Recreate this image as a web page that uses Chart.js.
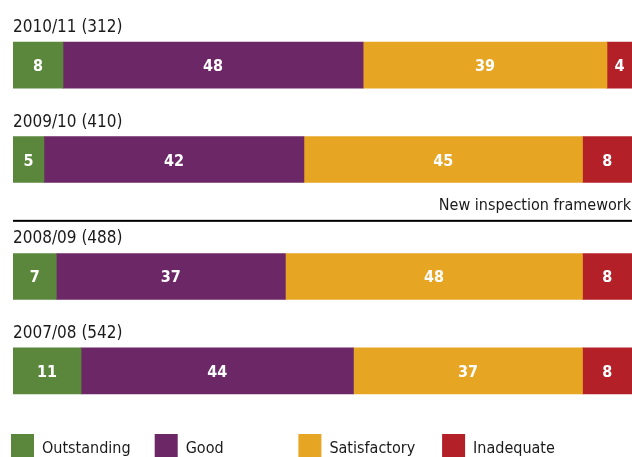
<!DOCTYPE html>
<html>
<head>
<meta charset="utf-8">
<script src="https://cdn.jsdelivr.net/npm/chart.js@4/dist/chart.umd.min.js"></script>
<style>
  html, body { margin: 0; padding: 0; background: #ffffff; }
  #wrap { width: 632px; height: 457px; position: relative; }
</style>
</head>
<body>
<div id="wrap"><canvas id="c" width="632" height="457"></canvas></div>
<script>
// ---- data ----
const categories = ['2010/11 (312)', '2009/10 (410)', '2008/09 (488)', '2007/08 (542)'];
const seriesNames = ['Outstanding', 'Good', 'Satisfactory', 'Inadequate'];
const outstanding = [8, 5, 7, 11];
const good = [48, 42, 37, 44];
const satisfactory = [39, 45, 48, 37];
const inadequate = [4, 8, 8, 8];
const frameworkNote = 'New inspection framework';

// ---- layout / style (kept apart from the data) ----
const rowSlots = [0, 1, 2.24, 3.24];      // vertical slot of each row (gap before new framework)
const dividerSlot = 1.65;                 // where the framework rule sits
const colors = ['#5B873D', '#6C2767', '#E6A624', '#B32028'];
const FONT = "'DejaVu Sans Condensed', 'DejaVu Sans', sans-serif";

const series = [outstanding, good, satisfactory, inadequate];
const rowTotals = categories.map((_, r) => series.reduce((s, arr) => s + arr[r], 0));

const datasets = series.map((arr, i) => ({
  label: seriesNames[i],
  data: arr.map((v, r) => ({ x: v / rowTotals[r] * 100, y: rowSlots[r] })),
  shown: arr,
  backgroundColor: colors[i],
  borderWidth: 0,
  barThickness: 46
}));

const overlay = {
  id: 'overlay',
  afterDatasetsDraw(chart) {
    const ctx = chart.ctx;
    const area = chart.chartArea;
    ctx.save();
    // values inside segments
    ctx.fillStyle = '#ffffff';
    ctx.textAlign = 'center';
    ctx.textBaseline = 'alphabetic';
    ctx.font = 'bold 16px ' + FONT;
    chart.data.datasets.forEach((ds, i) => {
      const meta = chart.getDatasetMeta(i);
      meta.data.forEach((el, j) => {
        const cx = (el.x + el.base) / 2;
        ctx.fillText(String(ds.shown[j]), cx, el.y + 6);
      });
    });
    // row titles
    ctx.fillStyle = '#1a1a1a';
    ctx.textAlign = 'left';
    ctx.font = '17px ' + FONT;
    const meta0 = chart.getDatasetMeta(0);
    meta0.data.forEach((el, j) => {
      const top = el.y - el.height / 2;
      ctx.fillText(categories[j], area.left, top - 10);
    });
    // framework divider
    const yDiv = chart.scales.y.getPixelForValue(dividerSlot);
    ctx.fillStyle = '#000000';
    ctx.fillRect(area.left, yDiv - 1, area.right - area.left, 2);
    ctx.fillStyle = '#1a1a1a';
    ctx.textAlign = 'right';
    ctx.font = '16px ' + FONT;
    ctx.fillText(frameworkNote, area.right - 1, yDiv - 10.5);
    // legend
    ctx.textAlign = 'left';
    ctx.font = '16px ' + FONT;
    chart.data.datasets.forEach((ds, i) => {
      const bx = 11 + i * 143.7;
      ctx.fillStyle = ds.backgroundColor;
      ctx.fillRect(bx, 434, 23, 23);
      ctx.fillStyle = '#1a1a1a';
      ctx.fillText(ds.label, bx + 31, 453);
    });
    ctx.restore();
  }
};

new Chart(document.getElementById('c'), {
  type: 'bar',
  data: { datasets },
  options: {
    indexAxis: 'y',
    responsive: false,
    animation: false,
    events: [],
    layout: { padding: { left: 13, right: 0, top: 18, bottom: 39 } },
    plugins: { legend: { display: false }, tooltip: { enabled: false } },
    scales: {
      x: { type: 'linear', stacked: true, min: 0, max: 100, display: false },
      y: { type: 'linear', stacked: true, offset: false, min: -0.5, max: 3.74, reverse: true, display: false }
    }
  },
  plugins: [overlay]
});
</script>
</body>
</html>
